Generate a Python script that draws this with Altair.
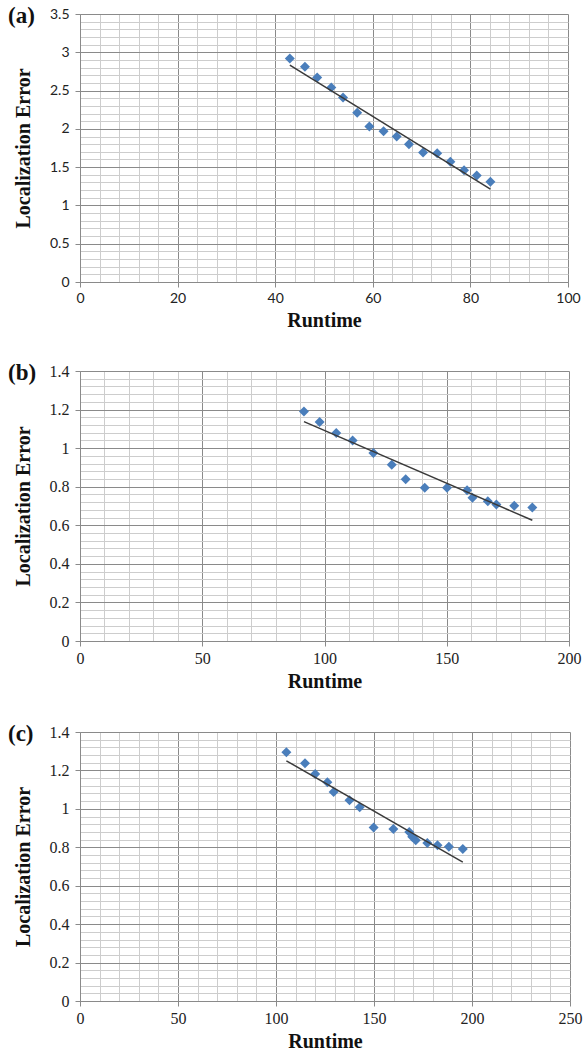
import altair as alt
import pandas as pd

# ---- data ----
a_runtime = [43.0, 46.1, 48.6, 51.5, 53.9, 56.8, 59.3, 62.2, 64.9, 67.4, 70.3, 73.2, 75.9, 78.7, 81.3, 84.1]
a_error = [2.92, 2.81, 2.67, 2.54, 2.41, 2.21, 2.03, 1.97, 1.90, 1.80, 1.69, 1.68, 1.57, 1.46, 1.39, 1.31]

b_runtime = [91.6, 98.0, 104.8, 111.5, 120.0, 127.5, 133.2, 141.0, 150.1, 158.3, 160.5, 166.8, 170.3, 177.6, 185.0]
b_error = [1.19, 1.135, 1.078, 1.04, 0.975, 0.914, 0.839, 0.795, 0.794, 0.782, 0.743, 0.724, 0.708, 0.701, 0.692]

c_runtime = [105.3, 114.8, 120.0, 126.2, 129.4, 137.5, 142.7, 149.8, 159.9, 168.0, 169.5, 171.3, 177.2, 182.4, 188.2, 195.3]
c_error = [1.295, 1.238, 1.181, 1.138, 1.088, 1.045, 1.008, 0.903, 0.895, 0.879, 0.855, 0.837, 0.822, 0.810, 0.803, 0.791]

panel_labels = ["(a)", "(b)", "(c)"]
x_title = "Runtime"
y_title = "Localization Error"

MAJOR = "#8a8a8a"
MINOR = "#cdcdcd"
BLUE = "#4a7ebb"


def ticks(maxv, step, digits):
    n = int(round(maxv / step))
    return [round(i * step, digits) for i in range(n + 1)]


def panel(label, xs, ys, xmax, xstep, ymax, ystep, width, height, lab_font, lab_size):
    df = pd.DataFrame({"Runtime": xs, "Error": ys})
    base = alt.Chart(df)
    xs_scale = alt.Scale(domain=[0, xmax], nice=False, zero=True)
    ys_scale = alt.Scale(domain=[0, ymax], nice=False, zero=True)

    minor_x = alt.Axis(values=ticks(xmax, xstep / 5, 4), grid=True, gridColor=MINOR, gridWidth=1,
                       labels=False, ticks=False, domain=False, title=None, orient="bottom")
    minor_y = alt.Axis(values=ticks(ymax, ystep / 5, 4), grid=True, gridColor=MINOR, gridWidth=1,
                       labels=False, ticks=False, domain=False, title=None, orient="left")

    major_x = alt.Axis(values=ticks(xmax, xstep, 4), grid=True, gridColor=MAJOR, gridWidth=1,
                       domainColor=MAJOR, tickColor=MAJOR, tickSize=5, orient="bottom",
                       format=".4~g",
                       labelFont=lab_font, labelFontSize=lab_size, labelColor="#222222",
                       labelPadding=4, labelFlush=False, labelOverlap=False,
                       title=x_title, titleFont="Liberation Serif", titleFontWeight="bold",
                       titleFontSize=20, titleColor="#111111", titlePadding=5)
    major_y = alt.Axis(values=ticks(ymax, ystep, 4), grid=True, gridColor=MAJOR, gridWidth=1,
                       domainColor=MAJOR, tickColor=MAJOR, tickSize=5, orient="left",
                       format=".4~g",
                       labelFont=lab_font, labelFontSize=lab_size, labelColor="#222222",
                       labelPadding=6, labelFlush=False, labelOverlap=False,
                       title=y_title, titleFont="Liberation Serif", titleFontWeight="bold",
                       titleFontSize=20, titleColor="#111111", titlePadding=16)

    pts = base.mark_point(shape="diamond", filled=True, size=100, color=BLUE, opacity=1).encode(
        x=alt.X("Runtime:Q", scale=xs_scale, axis=minor_x),
        y=alt.Y("Error:Q", scale=ys_scale, axis=minor_y),
    )
    trend = base.transform_regression("Runtime", "Error").mark_line(
        color="#3a3a3a", strokeWidth=1.5).encode(
        x=alt.X("Runtime:Q", scale=xs_scale, axis=major_x),
        y=alt.Y("Error:Q", scale=ys_scale, axis=major_y),
    )
    lab = alt.Chart(pd.DataFrame({"label": [label]})).mark_text(
        font="Liberation Serif", fontWeight="bold", fontSize=23, align="left",
        baseline="middle", color="#111111").encode(
        text="label:N", x=alt.value(-72), y=alt.value(2))
    return alt.layer(pts, trend, lab).resolve_axis(x="independent", y="independent").properties(
        width=width, height=height)


pa = panel(panel_labels[0], a_runtime, a_error, 100, 20, 3.5, 0.5, 488, 268, "Lato", 14)
pb = panel(panel_labels[1], b_runtime, b_error, 200, 50, 1.4, 0.2, 489, 270, "Liberation Serif", 16)
pc = panel(panel_labels[2], c_runtime, c_error, 250, 50, 1.4, 0.2, 490, 269, "Liberation Serif", 16)

chart = alt.vconcat(pa, pb, pc, spacing=30).properties(
    padding={"left": 7, "top": 4, "right": 0, "bottom": 0}
).configure_view(stroke=None).configure(background="white")

chart.save("out.html", embed_options={"renderer": "svg", "actions": False})
